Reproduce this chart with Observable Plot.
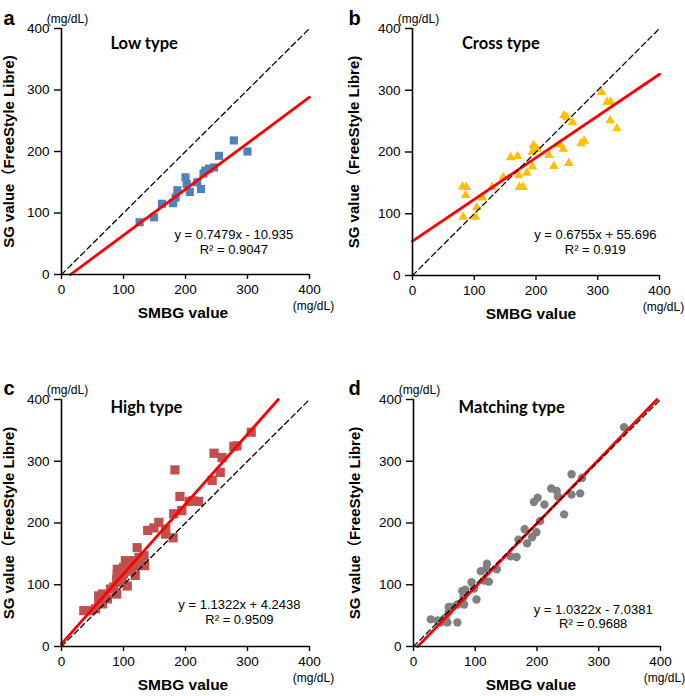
<!DOCTYPE html>
<html><head><meta charset="utf-8">
<script src="https://cdn.jsdelivr.net/npm/d3@7"></script>
<script src="https://cdn.jsdelivr.net/npm/@observablehq/plot@0.6"></script>
<style>
body{margin:0;background:#fff;overflow:hidden}
#chart{position:relative;width:685px;height:696px;background:#fff}
#chart svg{position:absolute;overflow:visible;background:transparent}
</style></head><body><div id="chart"></div>
<script>
// ---------- data ----------
const ticks = [0, 100, 200, 300, 400];
const tickLabels = ["0", "100", "200", "300", "400"];
const panelLetters = ["a", "b", "c", "d"];
const panelTitles = ["Low type", "Cross type", "High type", "Matching type"];
const slopes = [0.7479, 0.6755, 1.1322, 1.0322];
const intercepts = [-10.935, 55.696, 4.2438, -7.0381];
const r2Labels = ["0.9047", "0.919", "0.9509", "0.9688"];
const xTitle = "SMBG value";
const yTitle = "SG value\uFF08FreeStyle Libre)";
const unitLabel = "(mg/dL)";

const lowSMBG = [126,149,162,180,184,187,200,202,207,219,225,229,232,238,246,254,278,300];
const lowSG   = [85,93,115,116,125,137,158,147,134,150,139,164,169,172,174,193,218,200];

const crossSMBG = [81,87,86,82,104,102,113,129,147,159,170,172,173,179,185,194,196,194,202,221,229,239,244,245,250,253,259,273,278,306,315,321,320,331];
const crossSG   = [144,143,130,95,110,95,126,143,159,191,193,162,143,143,166,176,211,200,205,195,177,212,205,259,256,182,248,214,218,297,281,281,251,238];

const highSMBG = [306,283,278,246,259,183,256,243,191,206,212,221,194,181,157,149,139,168,168,180,122,133,125,117,134,103,111,100,90,95,90,89,98,119,106,79,89,60,66,74,60,66,55,47,36,93,100,108,113,120,128,84,70];
const highSG   = [347,325,324,313,306,286,282,269,243,235,236,235,220,215,201,192,188,190,182,176,160,147,144,139,131,139,136,128,125,123,117,109,106,115,98,93,85,82,85,77,71,69,61,58,58,104,118,128,122,131,142,96,80];

const matchSMBG = [341,256,273,223,232,234,256,270,201,195,212,244,205,180,199,192,170,184,157,167,119,118,109,135,122,114,94,98,79,84,81,102,79,82,71,63,57,57,52,47,39,28,55,71,44];
const matchSG   = [355,279,273,256,252,243,246,248,241,234,230,214,203,190,185,177,173,167,146,145,134,126,122,125,105,107,104,94,90,92,80,76,72,68,68,64,64,56,47,43,42,44,39,39,39];

const seriesX = [lowSMBG, crossSMBG, highSMBG, matchSMBG];
const seriesY = [lowSG, crossSG, highSG, matchSG];
const colors = ["#4f81bd", "#ffc000", "#c0504d", "#808080"];
const symbols = ["square", "triangle", "square", "circle"];
const radii = [4.6, 3.6, 5.2, 4.2];

// ---------- layout ----------
const geos = [
  {ox:0,   oy:0,   w:343, h:371, fl:61,  ft:28,  fr:309, fb:274, lx:3,   ly:10,  ytx:-52, xtx:-2.5},
  {ox:343, oy:0,   w:342, h:371, fl:412, ft:28,  fr:659, fb:275, lx:348, ly:10,  ytx:-58, xtx:-5},
  {ox:0,   oy:371, w:343, h:325, fl:61,  ft:399, fr:309, fb:646, lx:3,   ly:380, ytx:-52, xtx:-2.5},
  {ox:343, oy:371, w:342, h:325, fl:413, ft:399, fr:660, fb:646, lx:348, ly:380, ytx:-58, xtx:-6}
];
const titlePos = [[79,375],[80,376],[79,386],[73,387]];
const eqPos = [[278,53],[296,54],[287,57],[291,49]];

const sans = "'Liberation Sans', Arial, Helvetica, sans-serif";
const root = document.getElementById("chart");

geos.forEach((g, i) => {
  const a = slopes[i], b = intercepts[i];
  const x0 = Math.max(0, -b / a), x1 = Math.min(400, (400 - b) / a);
  const fit = [{x: x0, y: a * x0 + b}, {x: x1, y: a * x1 + b}];
  const pts = seriesX[i].map((x, k) => ({x, y: seriesY[i][k]}));
  const eq = `y = ${a}x ${b < 0 ? "-" : "+"} ${Math.abs(b)}\nR\u00B2 = ${r2Labels[i]}`;
  const plot = Plot.plot({
    width: g.w, height: g.h,
    marginLeft: g.fl - g.ox, marginTop: g.ft - g.oy,
    marginRight: g.ox + g.w - g.fr, marginBottom: g.oy + g.h - g.fb,
    x: {domain: [0, 400]}, y: {domain: [0, 400]},
    style: {fontFamily: sans, fontSize: "13.5px", color: "#000", background: "transparent", overflow: "visible"},
    marks: [
      Plot.dot(pts, {x: "x", y: "y", symbol: () => symbols[i], r: radii[i], fill: colors[i], stroke: "none"}),
      Plot.line(fit, {x: "x", y: "y", stroke: "#ff0000", strokeWidth: 2.8}),
      Plot.line([ticks[0], ticks[4]], {x: d => d, y: d => d, stroke: "#000", strokeWidth: 1.3, strokeDasharray: "5.5,3.5"}),
      Plot.ruleX([0], {stroke: "#000", strokeWidth: 1.6}),
      Plot.ruleY([0], {stroke: "#000", strokeWidth: 1.6}),
      Plot.axisX({ticks, tickFormat: d => tickLabels[ticks.indexOf(d)], tickSize: 5, tickPadding: 5, label: null, strokeWidth: 1.4, fontSize: 13.5}),
      Plot.axisY({ticks, tickFormat: d => tickLabels[ticks.indexOf(d)], tickSize: 7, tickPadding: 5, label: null, strokeWidth: 1.4}),
      Plot.text([panelTitles[i]], {x: titlePos[i][0], y: titlePos[i][1], text: d => d, textAnchor: "start",
        fontFamily: "Lato, 'Open Sans', sans-serif", fontWeight: "bold", fontSize: 16.5}),
      Plot.text([eq], {x: eqPos[i][0], y: eqPos[i][1], text: d => d, textAnchor: "middle", fontSize: 13, lineHeight: 1.15}),
      Plot.text([panelLetters[i]], {frameAnchor: "top-left", dx: g.lx - g.fl, dy: g.ly - g.ft, text: d => d,
        textAnchor: "start", fontWeight: "bold", fontSize: 20}),
      Plot.text([unitLabel], {frameAnchor: "top-left", dx: 6, dy: -14.5, text: d => d, textAnchor: "middle", fontSize: 12}),
      Plot.text([unitLabel], {frameAnchor: "bottom-right", dx: 4, dy: 35, text: d => d, textAnchor: "middle", fontSize: 12}),
      Plot.text([yTitle], {frameAnchor: "left", dx: g.ytx, rotate: -90, text: d => d, textAnchor: "middle",
        fontWeight: "bold", fontSize: 15, fontFamily: sans + ", 'Noto Sans CJK JP'"}),
      Plot.text([xTitle], {frameAnchor: "bottom", dx: g.xtx, dy: 43, text: d => d, textAnchor: "middle",
        fontWeight: "bold", fontSize: 15.5})
    ]
  });
  plot.style.left = g.ox + "px";
  plot.style.top = g.oy + "px";
  root.appendChild(plot);
});
</script>
</body></html>
